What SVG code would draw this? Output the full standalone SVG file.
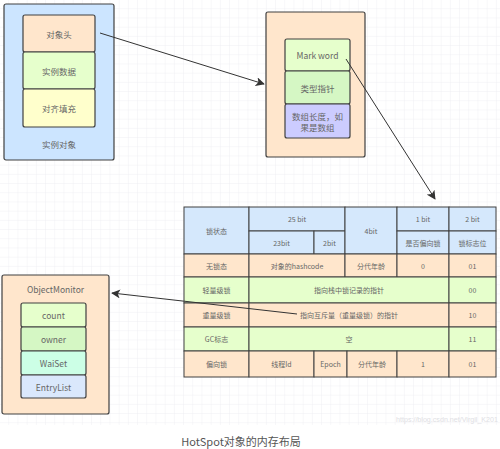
<svg xmlns="http://www.w3.org/2000/svg" width="500" height="449" viewBox="0 0 500 449">
<defs>
<pattern id="grid" width="9.2" height="9.2" patternUnits="userSpaceOnUse">
<path d="M9.2 0V9.2H0" fill="none" stroke="#ececf0" stroke-width="0.8"/>
</pattern>
<marker id="arr" viewBox="0 0 10 10" refX="9" refY="5" markerWidth="9" markerHeight="9" markerUnits="userSpaceOnUse" orient="auto">
<path d="M0 0L10 5L0 10L2.5 5Z" fill="#333"/>
</marker>
</defs>
<style>
text{font-family:"Noto Sans CJK SC","Liberation Sans",sans-serif;fill:#666;text-anchor:middle;dominant-baseline:central}
.b{stroke:#404040;stroke-width:1.2}
.c{stroke:#404040;stroke-width:1}
.n{font-size:8.5px}
.t{font-size:7px}
.blue{fill:#cce5ff}
.hdr{fill:#d5e8fc}
.org{fill:#ffe6cc}
.lg{fill:#e6ffcc}
.gr{fill:#d5f7c4}
.yl{fill:#ffffcc}
.mint{fill:#ccffe6}
.pur{fill:#ccccff}
.eb{fill:#dae8fc}
</style>
<rect width="500" height="449" fill="#fff"/>
<rect width="500" height="425" fill="url(#grid)"/>

<g id="instance">
<rect x="4" y="4" width="110" height="156" rx="2" class="blue b"/>
<text x="59" y="144" class="n">实例对象</text>
<rect x="23" y="15" width="72" height="37" rx="2" class="org b"/>
<text x="59" y="33.5" class="n">对象头</text>
<rect x="23" y="52" width="72" height="37" rx="2" class="lg b"/>
<text x="59" y="70.5" class="n">实例数据</text>
<rect x="23" y="89" width="72" height="38" rx="2" class="yl b"/>
<text x="59" y="108" class="n">对齐填充</text>
</g>

<g id="header">
<rect x="266" y="12" width="99" height="145" rx="2" class="org b"/>
<rect x="285" y="39" width="65" height="32" rx="2" class="lg b"/>
<text x="317.5" y="55" class="n">Mark  word</text>
<rect x="285" y="71" width="65" height="33" rx="2" class="gr b"/>
<text x="317.5" y="87.5" class="n">类型指针</text>
<rect x="285" y="104" width="65" height="34" rx="2" class="pur b"/>
<text x="317.5" y="116" class="n">数组长度，如</text>
<text x="317.5" y="127" class="n">果是数组</text>
</g>

<g id="markword-table">
<rect x="184" y="207" width="65" height="47" class="hdr c"/>
<text x="216.5" y="230.5" class="t">锁状态</text>
<rect x="249" y="207" width="96" height="24" class="hdr c"/>
<text x="297" y="219" class="t">25 bit</text>
<rect x="249" y="231" width="65" height="23" class="hdr c"/>
<text x="281.5" y="242.5" class="t">23bit</text>
<rect x="314" y="231" width="31" height="23" class="hdr c"/>
<text x="329.5" y="242.5" class="t">2bit</text>
<rect x="345" y="207" width="52" height="47" class="hdr c"/>
<text x="371" y="230.5" class="t">4bit</text>
<rect x="397" y="207" width="52" height="24" class="hdr c"/>
<text x="423" y="219" class="t">1 bit</text>
<rect x="397" y="231" width="52" height="23" class="hdr c"/>
<text x="423" y="242.5" class="t">是否偏向锁</text>
<rect x="449" y="207" width="47" height="24" class="hdr c"/>
<text x="472.5" y="219" class="t">2 bit</text>
<rect x="449" y="231" width="47" height="23" class="hdr c"/>
<text x="472.5" y="242.5" class="t">锁标志位</text>

<rect x="184" y="254" width="65" height="23" class="org c"/>
<text x="216.5" y="265.5" class="t">无锁态</text>
<rect x="249" y="254" width="96" height="23" class="org c"/>
<text x="297" y="265.5" class="t">对象的hashcode</text>
<rect x="345" y="254" width="52" height="23" class="org c"/>
<text x="371" y="265.5" class="t">分代年龄</text>
<rect x="397" y="254" width="52" height="23" class="org c"/>
<text x="423" y="265.5" class="t">0</text>
<rect x="449" y="254" width="47" height="23" class="org c"/>
<text x="472.5" y="265.5" class="t">01</text>

<rect x="184" y="277" width="65" height="26" class="lg c"/>
<text x="216.5" y="290" class="t">轻量级锁</text>
<rect x="249" y="277" width="200" height="26" class="lg c"/>
<text x="349" y="290" class="t">指向栈中锁记录的指针</text>
<rect x="449" y="277" width="47" height="26" class="lg c"/>
<text x="472.5" y="290" class="t">00</text>

<rect x="184" y="303" width="65" height="24" class="org c"/>
<text x="216.5" y="315" class="t">重量级锁</text>
<rect x="249" y="303" width="200" height="24" class="org c"/>
<text x="349" y="315" class="t">指向互斥量（重量级锁）的指针</text>
<rect x="449" y="303" width="47" height="24" class="org c"/>
<text x="472.5" y="315" class="t">10</text>

<rect x="184" y="327" width="65" height="24" class="lg c"/>
<text x="216.5" y="339" class="t">GC标志</text>
<rect x="249" y="327" width="200" height="24" class="lg c"/>
<text x="349" y="339" class="t">空</text>
<rect x="449" y="327" width="47" height="24" class="lg c"/>
<text x="472.5" y="339" class="t">11</text>

<rect x="184" y="351" width="65" height="26" class="org c"/>
<text x="216.5" y="364" class="t">偏向锁</text>
<rect x="249" y="351" width="65" height="26" class="org c"/>
<text x="281.5" y="364" class="t">线程Id</text>
<rect x="314" y="351" width="33" height="26" class="org c"/>
<text x="330.5" y="364" class="t">Epoch</text>
<rect x="347" y="351" width="50" height="26" class="org c"/>
<text x="372" y="364" class="t">分代年龄</text>
<rect x="397" y="351" width="52" height="26" class="org c"/>
<text x="423" y="364" class="t">1</text>
<rect x="449" y="351" width="47" height="26" class="org c"/>
<text x="472.5" y="364" class="t">01</text>
</g>

<g id="objectmonitor">
<rect x="2" y="275" width="107" height="139" rx="2" class="org b"/>
<text x="55.5" y="289" class="n">ObjectMonitor</text>
<rect x="21" y="303" width="65" height="24" rx="2" class="lg b"/>
<text x="53.5" y="315" class="n">count</text>
<rect x="21" y="327" width="65" height="24" rx="2" class="gr b"/>
<text x="53.5" y="339" class="n">owner</text>
<rect x="21" y="351" width="65" height="24" rx="2" class="mint b"/>
<text x="53.5" y="363" class="n">WaiSet</text>
<rect x="21" y="375" width="65" height="23" rx="2" class="eb b"/>
<text x="53.5" y="386.5" class="n">EntryList</text>
</g>

<g id="connectors" fill="none" stroke="#333" stroke-width="1">
<line x1="100" y1="33" x2="264" y2="84" marker-end="url(#arr)"/>
<line x1="346" y1="59" x2="435" y2="199" marker-end="url(#arr)"/>
<line x1="297" y1="314" x2="112" y2="293" marker-end="url(#arr)"/>
</g>

<text x="396" y="419" textLength="102" lengthAdjust="spacingAndGlyphs" style="font-family:'Liberation Sans',sans-serif;font-size:7px;fill:#e0e0e4;text-anchor:start">https://blog.csdn.net/Virgil_K201</text>
<text x="241" y="441" style="font-size:11px;fill:#555">HotSpot对象的内存布局</text>
</svg>
